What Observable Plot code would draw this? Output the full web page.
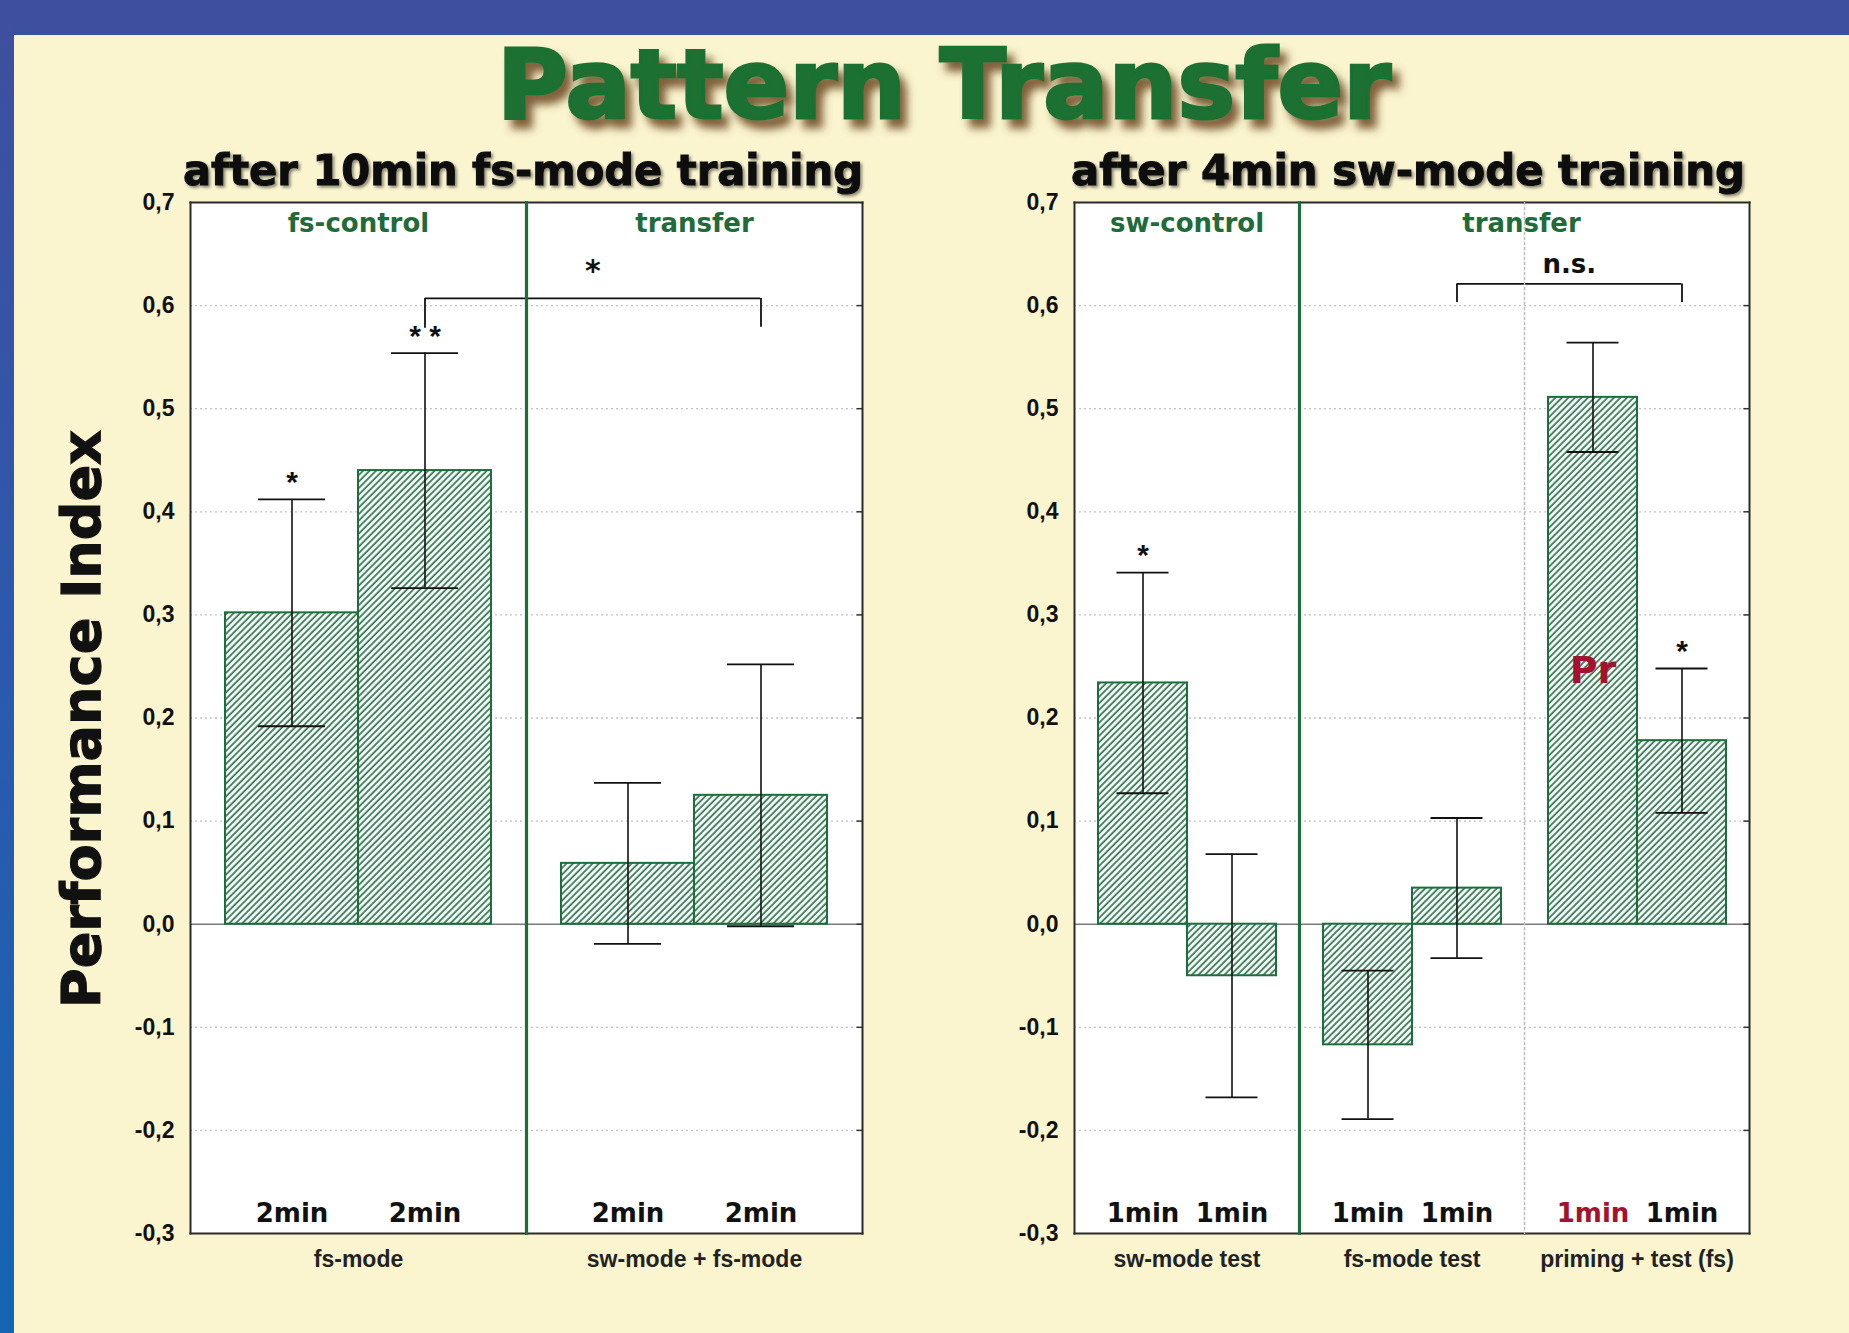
<!DOCTYPE html>
<html>
<head>
<meta charset="utf-8">
<script src="https://cdn.jsdelivr.net/npm/d3@7"></script>
<script src="https://cdn.jsdelivr.net/npm/@observablehq/plot@0.6"></script>
<style>
  html, body { margin: 0; padding: 0; }
  body {
    width: 1849px; height: 1333px; position: relative; overflow: hidden;
    background: #faf4cf;
  }
  #topbar { position: absolute; left: 0; top: 0; width: 1849px; height: 35px; background: #3f4f9f; }
  #sidebar { position: absolute; left: 0; top: 0; width: 14px; height: 1333px;
             background: linear-gradient(#3f4f9f, #2a5aae 55%, #1565b5); }
  #overlay { position: absolute; left: 0; top: 0; }
  .panel { position: absolute; }
</style>
</head>
<body>
<div id="topbar"></div>
<div id="sidebar"></div>

<svg id="overlay" width="1849" height="1333">
  <defs>
    <pattern id="hatch" patternUnits="userSpaceOnUse" width="4.6" height="4.6" patternTransform="rotate(45)">
      <rect width="4.6" height="4.6" fill="#f2faf5"></rect>
      <line x1="1" y1="0" x2="1" y2="4.6" stroke="#2f6f4b" stroke-width="1.6"></line>
    </pattern>
    <filter id="titleShadow" x="-10%" y="-30%" width="120%" height="170%">
      <feDropShadow dx="7" dy="9" stdDeviation="4.5" flood-color="#6b4520" flood-opacity="0.85"></feDropShadow>
    </filter>
    <filter id="headShadow" x="-5%" y="-30%" width="110%" height="160%">
      <feDropShadow dx="2" dy="2" stdDeviation="1.5" flood-color="#000" flood-opacity="0.45"></feDropShadow>
    </filter>
  </defs>
  <text x="944" y="118" text-anchor="middle" textLength="894" lengthAdjust="spacingAndGlyphs"
        font-family="DejaVu Sans, sans-serif" font-weight="bold" font-size="96"
        fill="#1a7131" stroke="#1a7131" stroke-width="3" filter="url(#titleShadow)">Pattern Transfer</text>
  <text x="523" y="185" text-anchor="middle" textLength="680" lengthAdjust="spacingAndGlyphs"
        font-family="DejaVu Sans, sans-serif" font-weight="bold" font-size="42"
        fill="#111" stroke="#111" stroke-width="1" filter="url(#headShadow)">after 10min fs-mode training</text>
  <text x="1408" y="185" text-anchor="middle" textLength="674" lengthAdjust="spacingAndGlyphs"
        font-family="DejaVu Sans, sans-serif" font-weight="bold" font-size="42"
        fill="#111" stroke="#111" stroke-width="1" filter="url(#headShadow)">after 4min sw-mode training</text>
  <text transform="translate(100,719) rotate(-90)" text-anchor="middle" textLength="578" lengthAdjust="spacingAndGlyphs"
        font-family="DejaVu Sans, sans-serif" font-weight="bold" font-size="54"
        fill="#111" stroke="#111" stroke-width="1.2">Performance Index</text>
</svg>

<div id="left" class="panel"></div>
<div id="right" class="panel"></div>

<script>
// ---- Data: performance index (mean ± SEM) per test group ----
const leftSections = ["fs-mode", "sw-mode + fs-mode"];
const leftGroupLabels = ["fs-control", "transfer"];
const leftDurations = ["2min", "2min", "2min", "2min"];
const leftMeans = [0.302, 0.440, 0.059, 0.125];
const leftErrors = [0.110, 0.114, 0.078, 0.127];
const leftSignificance = ["*", "* *", "", ""];
const leftTags = ["", "", "", ""];
const leftBracketBars = [1, 3];
const leftBracketLows = [0.578, 0.579];
const leftBracketTop = 0.607;
const leftBracketLabel = "*";
const leftBracketLabelY = 0.633;

const rightSections = ["sw-mode test", "fs-mode test", "priming + test (fs)"];
const rightGroupLabels = ["sw-control", "transfer"];
const rightDurations = ["1min", "1min", "1min", "1min", "1min", "1min"];
const rightMeans = [0.234, -0.050, -0.117, 0.035, 0.511, 0.178];
const rightErrors = [0.107, 0.118, 0.072, 0.068, 0.053, 0.070];
const rightSignificance = ["*", "", "", "", "", "*"];
const rightTags = ["", "", "", "", "Pr", ""];
const rightBracketBars = [3, 5];
const rightBracketLows = [0.603, 0.603];
const rightBracketTop = 0.621;
const rightBracketLabel = "n.s.";
const rightBracketLabelY = 0.640;

const yDomain = [-0.3, 0.7];
const yTicks = [-0.3, -0.2, -0.1, 0, 0.1, 0.2, 0.3, 0.4, 0.5, 0.6, 0.7];

// ---- Styling ----
const GREEN = "#1d6e3d";
const LABEL_GREEN = "#1f6b3a";
const RED = "#a3122e";
const INK = "#111";
const FONT = "'Liberation Sans', Arial, sans-serif";
const HEAVY = "'DejaVu Sans', sans-serif";
const ML = 70, MR = 10, MT = 10, MB = 60, FRAME_H = 1031;

function buildRows(sections, durations, means, errors, sig, tags) {
  const perSection = means.length / sections.length;
  return means.map((m, i) => ({
    section: sections[Math.floor(i / perSection)],
    slot: i % perSection,
    duration: durations[i],
    mean: m,
    lo: m - errors[i],
    hi: m + errors[i],
    sig: sig[i],
    tag: tags[i]
  }));
}

function panel({sections, rows, groupMarks, bracket, frameWidth, pad, capInset}) {
  const secW = frameWidth / sections.length;
  const bw = secW / (2 + 2 * pad);
  const first = sections[0], last = sections[sections.length - 1];
  const ends = bracket.bars.map((b, k) => ({
    section: rows[b].section, slot: rows[b].slot, low: bracket.lows[k], top: bracket.top
  }));
  const outline = {stroke: "#2b2b2b", strokeWidth: 2};
  const bracketStyle = {stroke: INK, strokeWidth: 1.8};

  return Plot.plot({
    width: ML + frameWidth + MR,
    height: MT + FRAME_H + MB,
    marginLeft: ML, marginRight: MR, marginTop: MT, marginBottom: MB,
    style: {background: "transparent", fontFamily: FONT, color: INK, overflow: "visible"},
    fx: {domain: sections, padding: 0, label: null},
    x: {type: "band", domain: [0, 1], paddingInner: 0, paddingOuter: pad, axis: null},
    y: {domain: yDomain, axis: null, label: null},
    marks: [
      Plot.frame({fill: "white", stroke: "none"}),
      // dotted grid and zero line
      Plot.ruleY(yTicks.filter(t => t !== 0 && t > yDomain[0] && t < yDomain[1]),
        {y: d => d, stroke: "#c4c4c4", strokeWidth: 1.3, strokeDasharray: "2,3"}),
      Plot.ruleY([0], {y: d => d, stroke: "#7a7a7a", strokeWidth: 1.5}),
      // short inner ticks along the right edge
      Plot.ruleY(yTicks.filter(t => t > yDomain[0] && t < yDomain[1]),
        {y: d => d, fx: () => last, insetLeft: secW - 6, stroke: "#333", strokeWidth: 1.5}),
      // hatched bars
      Plot.barY(rows, {fx: "section", x: "slot", y: "mean", fill: "url(#hatch)", stroke: GREEN, strokeWidth: 2}),
      // error bars
      Plot.ruleX(rows, {fx: "section", x: "slot", y1: "lo", y2: "hi", stroke: INK, strokeWidth: 1.6}),
      Plot.tickY(rows, {fx: "section", x: "slot", y: "hi", stroke: INK, strokeWidth: 1.8, insetLeft: capInset, insetRight: capInset}),
      Plot.tickY(rows, {fx: "section", x: "slot", y: "lo", stroke: INK, strokeWidth: 1.8, insetLeft: capInset, insetRight: capInset}),
      // significance marks above error bars
      Plot.text(rows.filter(d => d.sig), {fx: "section", x: "slot", y: "hi", text: "sig", dy: -17,
        fontSize: 30, fontWeight: "bold", fontFamily: FONT, fill: INK}),
      // tag inside a bar
      Plot.text(rows.filter(d => d.tag), {fx: "section", x: "slot", y: d => d.mean / 2, text: "tag", dy: 10,
        fontSize: 38, fontWeight: "bold", fontFamily: HEAVY, fill: RED}),
      // durations along the bottom
      Plot.text(rows.filter(d => !d.tag), {fx: "section", x: "slot", text: "duration", frameAnchor: "bottom", dy: -12,
        fontSize: 26, fontWeight: "bold", fontFamily: HEAVY, fill: INK}),
      Plot.text(rows.filter(d => d.tag), {fx: "section", x: "slot", text: "duration", frameAnchor: "bottom", dy: -12,
        fontSize: 26, fontWeight: "bold", fontFamily: HEAVY, fill: RED}),
      // comparison bracket across neighbouring sections
      Plot.ruleX(ends, {fx: "section", x: "slot", y1: "low", y2: "top", ...bracketStyle}),
      Plot.ruleY([ends[0]], {fx: "section", x1: "slot", x2: "slot", y: "top",
        insetLeft: bw / 2, insetRight: -pad * bw, ...bracketStyle}),
      Plot.ruleY([ends[1]], {fx: "section", x1: () => 0, x2: "slot", y: "top",
        insetLeft: -pad * bw, insetRight: bw / 2, ...bracketStyle}),
      Plot.text([ends[1]], {fx: "section", x: "slot", y: () => bracket.labelY, text: () => bracket.label,
        dx: -secW / 2, fontSize: bracket.label === "*" ? 30 : 26, fontWeight: "bold", fontFamily: HEAVY, fill: INK}),
      // group headings
      ...groupMarks,
      // frame outline and section dividers
      Plot.frame({anchor: "top", ...outline}),
      Plot.frame({anchor: "bottom", ...outline}),
      Plot.frame({anchor: "left", fx: () => first, ...outline}),
      Plot.frame({anchor: "right", fx: () => last, ...outline}),
      ...(sections.length > 2
        ? [Plot.frame({anchor: "left", fx: () => sections[2], stroke: "#bdbdbd", strokeWidth: 1.5, strokeDasharray: "2,3"})]
        : []),
      Plot.frame({anchor: "left", fx: () => sections[1], stroke: GREEN, strokeWidth: 3.2}),
      // axes
      Plot.axisY({ticks: yTicks, tickFormat: d => d.toFixed(1).replace(".", ","), tickSize: 0, tickPadding: 16,
        fontSize: 23, fontWeight: "bold", fill: INK}),
      Plot.axisFx({anchor: "bottom", tickSize: 0, tickPadding: 17, fontSize: 23, fontWeight: "bold", fill: "#222", label: null})
    ]
  });
}

function heading(text, section, anchor, dx = 0) {
  return Plot.text([text], {fx: () => section, text: d => d, frameAnchor: anchor, textAnchor: "middle", dy: 11, dx,
    fontSize: 26, fontWeight: "bold", fontFamily: HEAVY, fill: LABEL_GREEN});
}

const leftRows = buildRows(leftSections, leftDurations, leftMeans, leftErrors, leftSignificance, leftTags);
const rightRows = buildRows(rightSections, rightDurations, rightMeans, rightErrors, rightSignificance, rightTags);

const leftPlot = panel({
  sections: leftSections, rows: leftRows, frameWidth: 673, pad: 0.26, capInset: 33,
  groupMarks: [heading(leftGroupLabels[0], leftSections[0], "top"), heading(leftGroupLabels[1], leftSections[1], "top")],
  bracket: {bars: leftBracketBars, lows: leftBracketLows, top: leftBracketTop, label: leftBracketLabel, labelY: leftBracketLabelY}
});
const rightPlot = panel({
  sections: rightSections, rows: rightRows, frameWidth: 676, pad: 0.26, capInset: 18.5,
  groupMarks: [heading(rightGroupLabels[0], rightSections[0], "top"), heading(rightGroupLabels[1], rightSections[2], "top-left", -3)],
  bracket: {bars: rightBracketBars, lows: rightBracketLows, top: rightBracketTop, label: rightBracketLabel, labelY: rightBracketLabelY}
});

const leftDiv = document.getElementById("left");
leftDiv.style.left = (189 - ML) + "px";
leftDiv.style.top = (202 - MT) + "px";
leftDiv.appendChild(leftPlot);

const rightDiv = document.getElementById("right");
rightDiv.style.left = (1073 - ML) + "px";
rightDiv.style.top = (202 - MT) + "px";
rightDiv.appendChild(rightPlot);
</script>
</body>
</html>
